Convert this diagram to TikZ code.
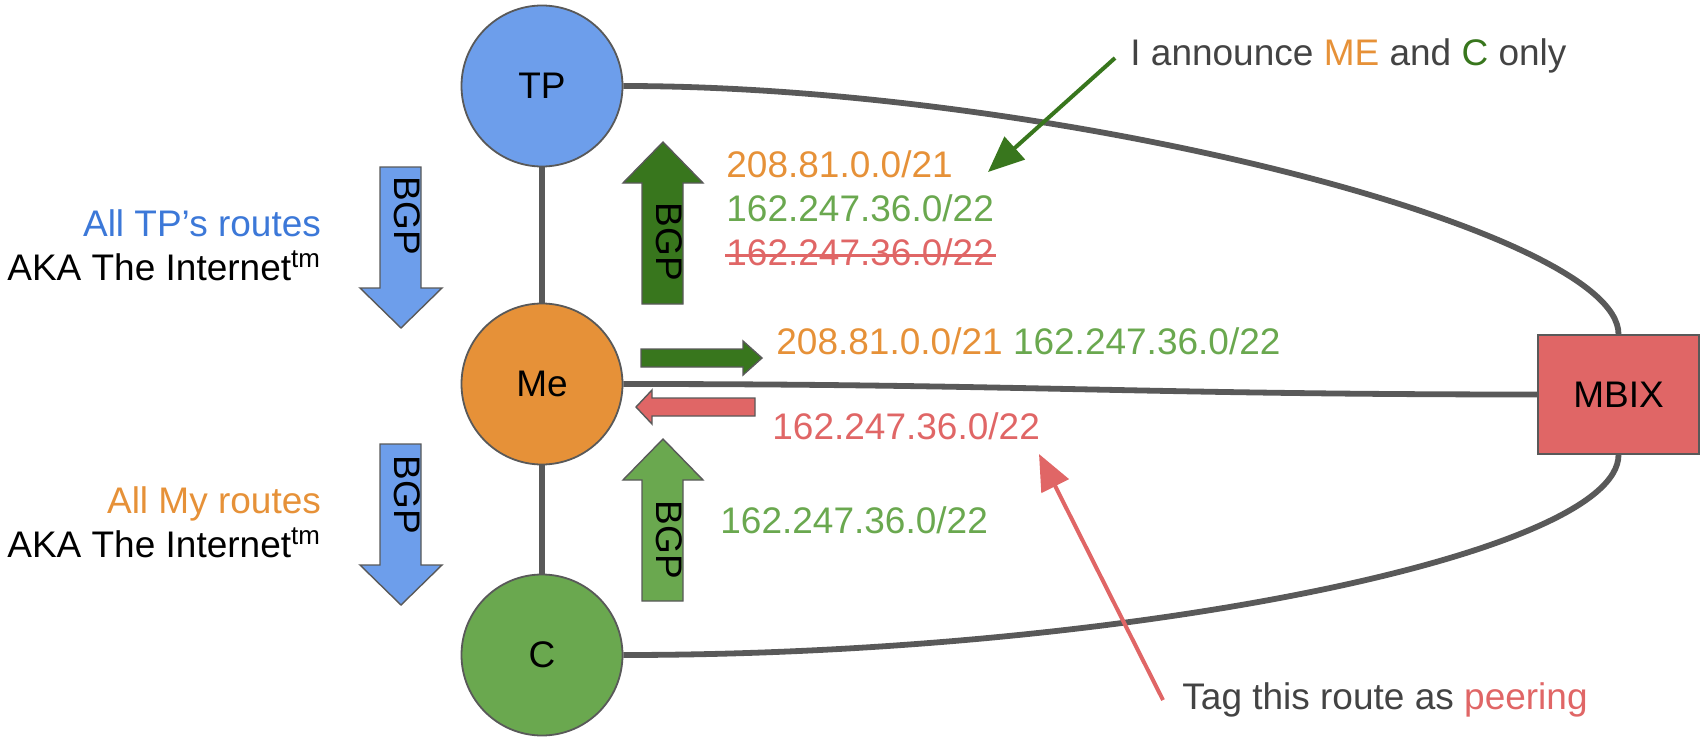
\documentclass[tikz,border=0pt]{standalone}
\usepackage{fontspec}
\setmainfont{Liberation Sans}
\usetikzlibrary{arrows.meta}
\usetikzlibrary{shapes.misc}

\definecolor{tpblue}{HTML}{6D9EEB}
\definecolor{txtblue}{HTML}{3C78D8}
\definecolor{meorange}{HTML}{E69138}
\definecolor{cgreen}{HTML}{6AA84F}
\definecolor{darkgreen}{HTML}{38761D}
\definecolor{ixred}{HTML}{E06666}
\definecolor{linegray}{HTML}{595959}
\definecolor{txtgray}{HTML}{434343}

\tikzset{
    router/.style={circle,draw=linegray,line width=0.9pt,minimum size=80.5pt,inner sep=0pt},
    exchange/.style={rectangle,draw=linegray,line width=0.9pt,fill=ixred,minimum width=80.5pt,minimum height=59.5pt},
    link/.style={draw=linegray,line width=2.9pt},
    bgpblock/.style={draw=linegray,line width=0.7pt},
    bgplabel/.style={rotate=-90,inner sep=0pt},
    callout/.style={line width=2pt,-{Triangle[length=18pt,width=15pt]}},
}

\begin{document}
\begin{tikzpicture}[x=0.5pt,y=-0.5pt,font=\fontsize{18.5}{22}\selectfont]
    \useasboundingbox (0,0) rectangle (1702,738);

    \node[router,fill=tpblue] (TP) at (542,86) {TP};
    \node[router,fill=meorange] (Me) at (542,384) {Me};
    \node[router,fill=cgreen] (C) at (542,655) {C};
    \node[exchange] (MBIX) at (1618.5,394.5) {MBIX};

    \draw[link] (TP) -- (Me);
    \draw[link] (Me) -- (C);
    \draw[link] (TP.east) .. controls +(427,0) and +(0,-105) .. (MBIX.north);
    \draw[link] (Me.east) .. controls +(400,0) and +(-400,0) .. (MBIX.west);
    \draw[link] (C.east) .. controls +(500,0) and +(0,100) .. (MBIX.south);

    % BGP sessions
    \filldraw[bgpblock,fill=tpblue] (380,167) -- (421,167) -- (421,288) -- (442,288) -- (401,328) -- (360,288) -- (380,288) -- cycle;
    \filldraw[bgpblock,fill=tpblue] (380,444) -- (421,444) -- (421,565) -- (442,565) -- (401,605) -- (360,565) -- (380,565) -- cycle;
    \filldraw[bgpblock,fill=darkgreen] (642,304) -- (642,183) -- (623,183) -- (663,142) -- (703,183) -- (683,183) -- (683,304) -- cycle;
    \filldraw[bgpblock,fill=cgreen] (642,601) -- (642,480) -- (623,480) -- (663,439) -- (703,480) -- (683,480) -- (683,601) -- cycle;
    \filldraw[bgpblock,fill=darkgreen] (641,349) -- (743,349) -- (743,341) -- (762,358) -- (743,375) -- (743,367) -- (641,367) -- cycle;
    \filldraw[bgpblock,fill=ixred] (755,398) -- (652,398) -- (652,390) -- (636,407) -- (652,424) -- (652,416) -- (755,416) -- cycle;
    \node[bgplabel] (bgpTP) at (407,216) {BGP};
    \node[bgplabel] (bgpMe) at (407,495) {BGP};
    \node[bgplabel] (bgpUp) at (669,242) {BGP};
    \node[bgplabel] (bgpC) at (669,540) {BGP};

    % what each side gets
    \node[anchor=base east,text=txtblue] (tpRoutes) at (328,236) {All TP’s routes};
    \node[anchor=base east] (tpNet) at (328,280) {AKA The Internet\textsuperscript{tm}};
    \node[anchor=base east,text=meorange] (myRoutes) at (328,513) {All My routes};
    \node[anchor=base east] (myNet) at (328,557) {AKA The Internet\textsuperscript{tm}};

    \node[anchor=base west,inner sep=0pt,text=meorange] (upMe) at (726,177) {208.81.0.0/21};
    \node[anchor=base west,inner sep=0pt,text=cgreen] (upC) at (726,221) {162.247.36.0/22};
    \node[anchor=base west,inner sep=0pt,text=ixred] (upPeer) at (726,265) {162.247.36.0/22};
    \draw[ixred,line width=1.5pt] ([xshift=-0.5pt,yshift=5pt]upPeer.base west) -- ([xshift=1pt,yshift=5pt]upPeer.base east);

    \node[anchor=base west,inner sep=0pt] (toIX) at (776,354) {\textcolor{meorange}{208.81.0.0/21} \textcolor{cgreen}{162.247.36.0/22}};
    \node[anchor=base west,inner sep=0pt,text=ixred] (fromIX) at (772,439) {162.247.36.0/22};
    \node[anchor=base west,inner sep=0pt,text=cgreen] (fromC) at (720,533) {162.247.36.0/22};

    % notes
    \node[anchor=base west,inner sep=0pt,text=txtgray] (announce) at (1130,66) {I announce \textcolor{meorange}{ME} and \textcolor{darkgreen}{C} only};
    \node[anchor=base west,inner sep=0pt,text=txtgray] (tag) at (1182,709) {Tag this route as \textcolor{ixred}{peering}};
    \coordinate (annTail) at (1115,58);
    \coordinate (annTip) at (988,172);
    \coordinate (tagTail) at (1163,700);
    \coordinate (tagTip) at (1039,454);
    \draw[callout,darkgreen] (annTail) -- (annTip);
    \draw[callout,ixred] (tagTail) -- (tagTip);
\end{tikzpicture}
\end{document}
